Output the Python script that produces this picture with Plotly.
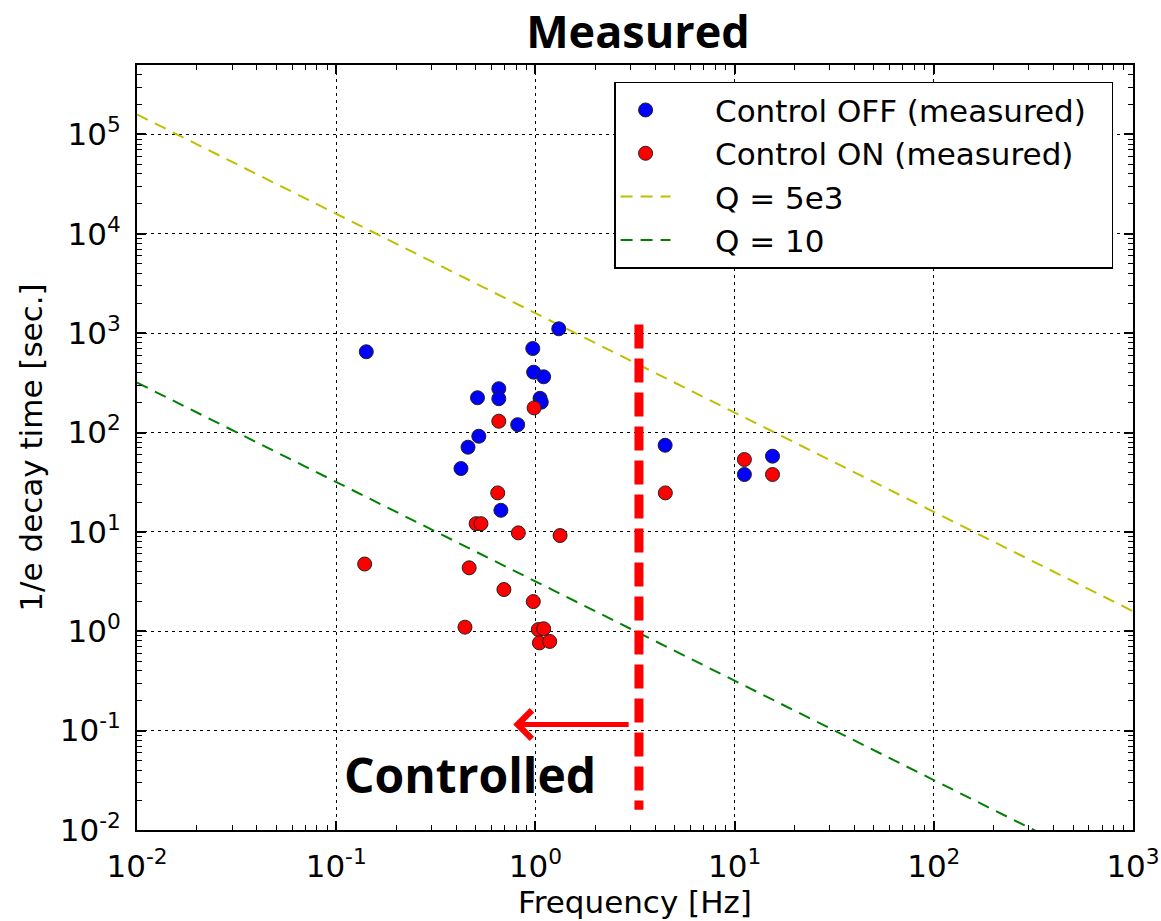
import plotly.graph_objects as go
import math

# ---- data ----
off_freq = [0.1416, 1.31, 0.97, 0.98, 1.10, 0.655, 0.512, 0.655, 1.055, 1.07,
            0.815, 0.52, 0.459, 0.423, 0.671, 4.48, 11.2, 15.5]
off_tau = [650, 1107, 701, 405, 364, 276, 224, 219, 221, 202,
           120, 91.8, 71.2, 43.4, 16.5, 74.5, 37.8, 57.8]

on_freq = [0.139, 0.985, 0.655, 0.647, 0.504, 0.533, 0.821, 1.33, 0.465, 0.695,
           0.976, 0.443, 1.034, 1.10, 1.047, 1.18, 4.49, 11.2, 15.5]
on_tau = [4.75, 177, 130, 24.7, 12.1, 12.1, 9.78, 9.19, 4.35, 2.63,
          1.99, 1.10, 1.04, 1.06, 0.764, 0.79, 24.7, 53.5, 37.8]

q_freq = [0.01, 1000]
q5e3_tau = [1.59e5, 1.59]
q10_tau = [318, 0.00318]

cut_freq = [3.31, 3.31]
cut_tau = [1220, 0.016]

arrow_tail = (2.99, 0.115)
arrow_head = (0.774, 0.115)

x_tickvals = [1e-2, 1e-1, 1, 10, 100, 1000]
x_ticktext = ["10<sup>-2</sup>", "10<sup>-1</sup>", "10<sup>0</sup>",
              "10<sup>1</sup>", "10<sup>2</sup>", "10<sup>3</sup>"]
y_tickvals = [1e-2, 1e-1, 1, 10, 100, 1e3, 1e4, 1e5]
y_ticktext = ["10<sup>-2</sup>", "10<sup>-1</sup>", "10<sup>0</sup>", "10<sup>1</sup>",
              "10<sup>2</sup>", "10<sup>3</sup>", "10<sup>4</sup>", "10<sup>5</sup>"]

names = ["Control OFF (measured)", "Control ON (measured)", "Q = 5e3", "Q = 10"]
PAD = "\u00a0" * 4   # spacing between legend symbol and label
TAIL = "\u00a0" * 2  # right padding inside the legend box

FONT = "DejaVu Sans"

fig = go.Figure()

fig.add_trace(go.Scatter(x=q_freq, y=q5e3_tau, mode="lines", name=PAD + names[2],
                         line=dict(color="#bfbf00", width=2, dash="12px,8px"),
                         legendrank=3))
fig.add_trace(go.Scatter(x=q_freq, y=q10_tau, mode="lines", name=PAD + names[3],
                         line=dict(color="#008000", width=2, dash="12px,8px"),
                         legendrank=4))
fig.add_trace(go.Scatter(x=cut_freq, y=cut_tau, mode="lines", showlegend=False,
                         line=dict(color="#ff0000", width=9, dash="24px,10px")))
fig.add_trace(go.Scatter(x=off_freq, y=off_tau, mode="markers",
                         name=PAD + names[0] + TAIL,
                         marker=dict(color="#0000ff", size=14,
                                     line=dict(color="#222222", width=1)),
                         legendrank=1))
fig.add_trace(go.Scatter(x=on_freq, y=on_tau, mode="markers",
                         name=PAD + names[1],
                         marker=dict(color="#ff0000", size=14,
                                     line=dict(color="#222222", width=1)),
                         legendrank=2))

axis_common = dict(
    type="log", showline=True, linecolor="black", linewidth=2, mirror="allticks",
    ticks="inside", ticklen=9, tickwidth=1.5, tickcolor="black",
    showgrid=True, gridcolor="black", gridwidth=1, griddash="3px,4px",
    zeroline=False, tickfont=dict(family=FONT, size=31, color="black"),
    minor=dict(ticks="inside", ticklen=5, tickwidth=1, tickcolor="black",
               dtick="D1", showgrid=False),
    ticklabelstandoff=8, automargin=False,
)

fig.update_xaxes(range=[-2, 3], tickvals=x_tickvals, ticktext=x_ticktext,
                 title=dict(text="Frequency [Hz]",
                            font=dict(family=FONT, size=31, color="black"),
                            standoff=3),
                 **axis_common)
fig.update_yaxes(range=[-2, math.log10(5e5)], tickvals=y_tickvals, ticktext=y_ticktext,
                 title=dict(text="1/e decay time [sec.]",
                            font=dict(family=FONT, size=31, color="black"),
                            standoff=8),
                 **axis_common)

fig.add_annotation(x=math.log10(arrow_head[0]), y=math.log10(arrow_head[1]),
                   ax=math.log10(arrow_tail[0]), ay=math.log10(arrow_tail[1]),
                   xref="x", yref="y", axref="x", ayref="y", text="",
                   showarrow=True, arrowhead=4, arrowsize=1.1, arrowwidth=5,
                   arrowcolor="#ff0000")
fig.add_annotation(x=0.334, y=0.073, xref="paper", yref="paper",
                   xanchor="center", yanchor="middle",
                   text="<b>Controlled</b>", showarrow=False,
                   font=dict(family="Open Sans", size=48, color="black"))

fig.update_layout(
    width=1161, height=921,
    margin=dict(l=137, r=28, t=65, b=91),
    paper_bgcolor="white", plot_bgcolor="white",
    title=dict(text="<b>Measured</b>", x=0.503, xref="paper", xanchor="center",
               y=0.965, yref="container", yanchor="middle",
               font=dict(family="Open Sans", size=45, color="black")),
    legend=dict(x=0.98, y=0.978, xanchor="right", yanchor="top",
                bgcolor="white", bordercolor="black", borderwidth=1.5,
                font=dict(family=FONT, size=31, color="black"),
                itemwidth=50, tracegroupgap=0),
    showlegend=True,
)

fig.write_html("out.html")
